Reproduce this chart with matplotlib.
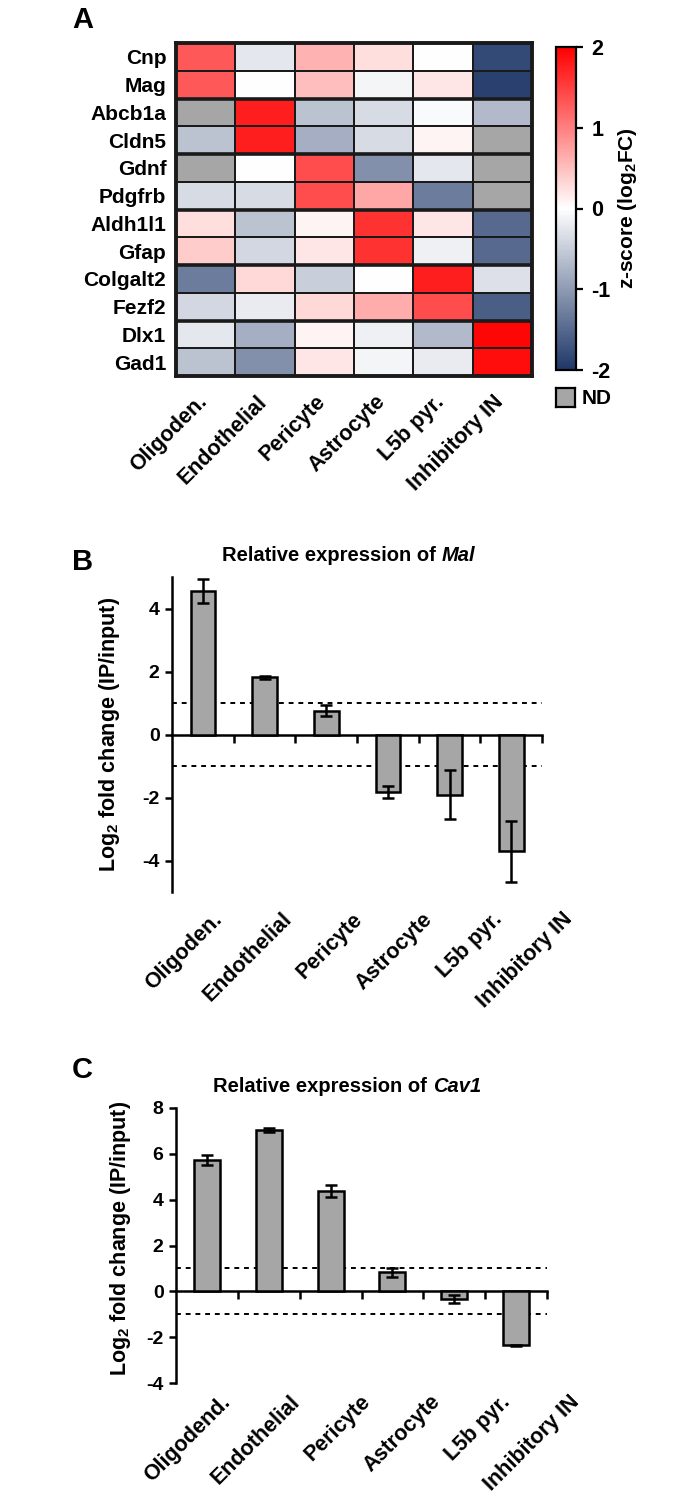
import numpy as np
import matplotlib
matplotlib.use('Agg')
import matplotlib.pyplot as plt
import matplotlib.transforms as mtransforms
from matplotlib.colors import LinearSegmentedColormap

plt.rcParams['font.family'] = ['Liberation Sans', 'DejaVu Sans']
plt.rcParams['font.weight'] = 'bold'
plt.rcParams['axes.titleweight'] = 'bold'
plt.rcParams['axes.labelweight'] = 'bold'
plt.rcParams['axes.unicode_minus'] = False
plt.rcParams['mathtext.fontset'] = 'custom'
plt.rcParams['mathtext.rm'] = 'Liberation Sans:bold'
plt.rcParams['mathtext.it'] = 'Liberation Sans:bold:italic'
plt.rcParams['mathtext.bf'] = 'Liberation Sans:bold'

# panel A: z-scores, nan = ND
genes = ['Cnp', 'Mag', 'Abcb1a', 'Cldn5', 'Gdnf', 'Pdgfrb', 'Aldh1l1', 'Gfap',
         'Colgalt2', 'Fezf2', 'Dlx1', 'Gad1']
cell_types_a = ['Oligoden.', 'Endothelial', 'Pericyte', 'Astrocyte', 'L5b pyr.', 'Inhibitory IN']
zscores = [
    [1.3, -0.25, 0.6, 0.25, 0.0, -1.8],
    [1.3, 0.0, 0.5, -0.1, 0.2, -1.9],
    [np.nan, 1.75, -0.6, -0.35, -0.05, -0.7],
    [-0.6, 1.75, -0.8, -0.35, 0.08, np.nan],
    [np.nan, 0.0, 1.4, -1.1, -0.25, np.nan],
    [-0.35, -0.35, 1.4, 0.7, -1.3, np.nan],
    [0.25, -0.6, 0.08, 1.6, 0.2, -1.5],
    [0.4, -0.4, 0.2, 1.6, -0.15, -1.5],
    [-1.3, 0.3, -0.5, 0.0, 1.75, -0.3],
    [-0.4, -0.2, 0.3, 0.65, 1.4, -1.6],
    [-0.25, -0.8, 0.08, -0.15, -0.7, 1.95],
    [-0.6, -1.1, 0.2, -0.1, -0.2, 1.9],
]

# panel B: Mal
cell_types_b = ['Oligoden.', 'Endothelial', 'Pericyte', 'Astrocyte', 'L5b pyr.', 'Inhibitory IN']
mal_fc = [4.57, 1.81, 0.76, -1.83, -1.91, -3.71]
mal_err = [0.38, 0.05, 0.18, 0.2, 0.77, 0.96]

# panel C: Cav1
cell_types_c = ['Oligodend.', 'Endothelial', 'Pericyte', 'Astrocyte', 'L5b pyr.', 'Inhibitory IN']
cav1_fc = [5.72, 7.05, 4.37, 0.83, -0.35, -2.35]
cav1_err = [0.22, 0.08, 0.26, 0.2, 0.17, 0.03]

W, H = 700, 1500
fig = plt.figure(figsize=(W / 100, H / 100), dpi=100)


def box(l, t, r, b):
    return [l / W, 1 - b / H, (r - l) / W, (b - t) / H]


def shift_labels(labels, dx0, ddx):
    for i, lab in enumerate(labels):
        off = mtransforms.ScaledTranslation((dx0 + ddx * i) / 100, 0, fig.dpi_scale_trans)
        lab.set_transform(lab.get_transform() + off)


# ---- A: heatmap
cmap = LinearSegmentedColormap.from_list('bwr_navy', ['#1f3768', '#ffffff', '#ff0000'])
cmap.set_bad('#a6a6a6')
ax = fig.add_axes(box(176, 43, 532, 376))
z = np.ma.masked_invalid(np.array(zscores))
mesh = ax.pcolormesh(z, cmap=cmap, vmin=-2, vmax=2, edgecolors='#1a1a1a', linewidth=1.1)
ax.set_xlim(0, 6)
ax.set_ylim(12, 0)
for y in range(2, 12, 2):
    ax.axhline(y, color='#1a1a1a', lw=2.6)
for s in ax.spines.values():
    s.set_linewidth(2.8)
    s.set_color('#1a1a1a')
ax.set_yticks(np.arange(12) + 0.5)
ax.set_yticklabels(genes, fontsize=15)
ax.set_xticks(np.arange(6) + 0.5)
xl = ax.set_xticklabels(cell_types_a, rotation=45, ha='right', va='top',
                        rotation_mode='anchor', fontsize=15.5)
ax.tick_params(length=0)
ax.tick_params(axis='y', pad=7)
ax.tick_params(axis='x', pad=11)
shift_labels(xl, -9, 0)

cax = fig.add_axes(box(556, 47, 576, 370))
cb = fig.colorbar(mesh, cax=cax, ticks=[-2, -1, 0, 1, 2])
cb.outline.set_linewidth(1.6)
cax.tick_params(labelsize=15.5, width=1.6, length=5, pad=6)
cb.set_label('z-score (log$_2$FC)', fontsize=15, labelpad=4)

nd = fig.add_axes(box(556, 388, 575, 407))
nd.set_facecolor('#a6a6a6')
nd.set_xticks([])
nd.set_yticks([])
for s in nd.spines.values():
    s.set_linewidth(1.6)
fig.text(582 / W, 1 - 398 / H, 'ND', fontsize=15, va='center', ha='left')


# ---- bar panels
def bar_panel(rect, labels, vals, errs, gene, ylim, yticks, width, lab_pad, dx0, ddx,
              ylab_xy, title_x):
    a = fig.add_axes(rect)
    x = np.arange(len(vals))
    a.bar(x, vals, width=width, color='#a6a6a6', edgecolor='black', linewidth=1.8,
          yerr=errs, capsize=4.5, error_kw=dict(elinewidth=1.8, capthick=1.8, ecolor='black'),
          zorder=3)
    for yl in (1, -1):
        a.axhline(yl, color='black', lw=1.4, ls=(0, (2.5, 2.5)), zorder=1)
    a.set_xlim(-0.5, len(vals) - 0.5)
    a.set_ylim(*ylim)
    a.set_yticks(yticks)
    a.spines['top'].set_visible(False)
    a.spines['right'].set_visible(False)
    a.spines['bottom'].set_position(('data', 0))
    a.spines['left'].set_linewidth(1.8)
    a.spines['bottom'].set_linewidth(1.8)
    a.set_xticks(x + 0.5)
    a.set_xticklabels([])
    a.tick_params(axis='x', direction='out', length=6, width=1.8)
    a.tick_params(axis='y', direction='out', length=5, width=1.8, labelsize=14, pad=4)
    sec = a.secondary_xaxis('bottom')
    sec.set_xticks(x)
    sl = sec.set_xticklabels(labels, rotation=45, ha='right', va='top',
                             rotation_mode='anchor', fontsize=15.5)
    sec.tick_params(length=0, pad=lab_pad)
    sec.spines['bottom'].set_visible(False)
    shift_labels(sl, dx0, ddx)
    # title: plain part + italic gene name
    t1 = a.text(title_x, 1.0, 'Relative expression of ', transform=a.transAxes,
                ha='left', va='bottom', fontsize=14.5,
                transform_rotates_text=False)
    t1.set_transform(a.transAxes + mtransforms.ScaledTranslation(0, 12 / 100, fig.dpi_scale_trans))
    a.annotate(gene, xy=(1, 0), xycoords=t1, ha='left', va='bottom',
               fontsize=14.5, style='italic')
    a.set_ylabel('Log$_2$ fold change (IP/input)', fontsize=15.5)
    a.yaxis.set_label_coords(*ylab_xy)
    return a


bar_panel(box(172, 577, 542, 892), cell_types_b, mal_fc, mal_err, 'Mal',
          (-5, 5), [-4, -2, 0, 2, 4], 0.4, 12, 9, 8.4, (-0.135, 0.5), 0.135)
bar_panel(box(176, 1108, 547, 1383), cell_types_c, cav1_fc, cav1_err, 'Cav1',
          (-4, 8), [-4, -2, 0, 2, 4, 6, 8], 0.42, 6, 13, 8, (-0.115, 0.527), 0.1)

fig.text(72 / W, 1 - 20 / H, 'A', fontsize=21, va='center', ha='left')
fig.text(72 / W, 1 - 562 / H, 'B', fontsize=21, va='center', ha='left')
fig.text(72 / W, 1 - 1070 / H, 'C', fontsize=21, va='center', ha='left')

fig.savefig('out.png', dpi=100, facecolor='white')
